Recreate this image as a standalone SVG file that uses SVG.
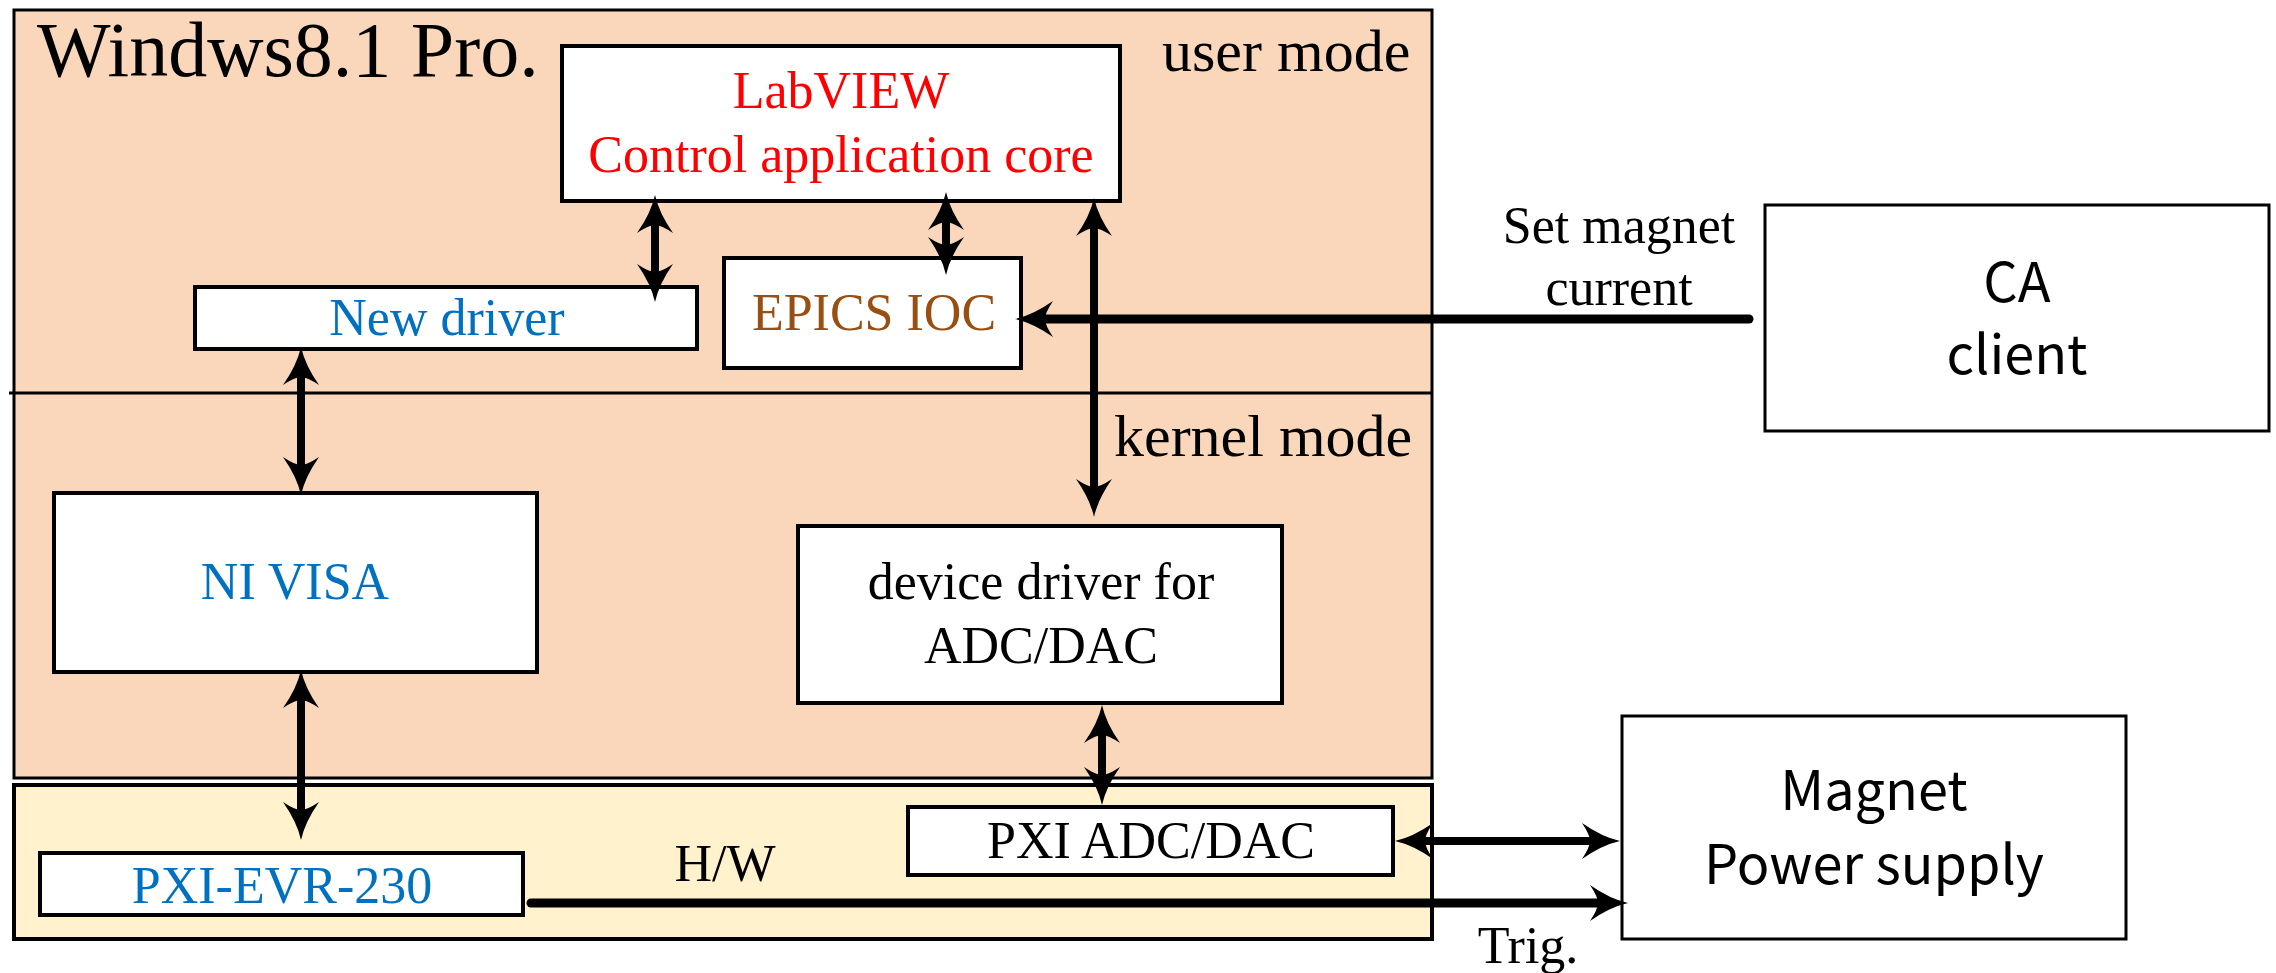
<svg xmlns="http://www.w3.org/2000/svg" width="2276" height="973" viewBox="0 0 2276 973">
<style>
.bg{fill:#ffffff}
.os{fill:#FAD7BA;stroke:#000;stroke-width:3}
.hw{fill:#FFF2CC;stroke:#000;stroke-width:4}
.box{fill:#ffffff;stroke:#000;stroke-width:4}
.ext{fill:#ffffff;stroke:#000;stroke-width:3}
.t{font-family:"Liberation Serif","Times New Roman",serif;font-size:52px;text-anchor:middle}
.big{font-family:"Liberation Serif","Times New Roman",serif;font-size:78px}
.mode{font-family:"Liberation Serif","Times New Roman",serif;font-size:60px}
.s{font-family:"Noto Sans CJK JP","Noto Sans",sans-serif;font-size:54px;text-anchor:middle}
.red{fill:#FF0000}
.blue{fill:#0070C0}
.brown{fill:#9A4F12}
.blk{fill:#000}
.c{fill:none;stroke:#000;stroke-width:8}
.cw{fill:none;stroke:#000;stroke-width:9;stroke-linecap:round}
</style>
<defs>
<marker id="ah" viewBox="-40 -20 42 40" refX="-25" refY="0" markerWidth="42" markerHeight="40" markerUnits="userSpaceOnUse" orient="auto-start-reverse">
<path d="M0,0 Q-18,-4 -38,-18 Q-30,-6 -30,0 Q-30,6 -38,18 Q-18,4 0,0 Z" fill="#000"/>
</marker>
</defs>
<rect class="bg" x="0" y="0" width="2276" height="973"/>
<g id="os-region">
<rect class="os" x="14" y="10" width="1418" height="768"/>
<line x1="9" y1="393" x2="1431" y2="393" stroke="#000" stroke-width="3"/>
<text class="big blk" x="37" y="76">Windws8.1 Pro.</text>
<text class="mode blk" x="1162" y="71">user mode</text>
<text class="mode blk" x="1114" y="456">kernel mode</text>
</g>
<g id="hw-region">
<rect class="hw" x="14" y="785" width="1418" height="154"/>
<text class="t blk" x="725" y="881">H/W</text>
</g>
<g id="labview">
<rect class="box" x="562" y="46" width="558" height="155"/>
<text class="t red" x="841" y="108">LabVIEW</text>
<text class="t red" x="841" y="172">Control application core</text>
</g>
<g id="new-driver">
<rect class="box" x="195" y="287" width="502" height="62"/>
<text class="t blue" x="447" y="335">New driver</text>
</g>
<g id="epics-ioc">
<rect class="box" x="724" y="258" width="297" height="110"/>
<text class="t brown" x="874" y="330">EPICS IOC</text>
</g>
<g id="ni-visa">
<rect class="box" x="54" y="493" width="483" height="179"/>
<text class="t blue" x="295" y="599">NI VISA</text>
</g>
<g id="device-driver">
<rect class="box" x="798" y="526" width="484" height="177"/>
<text class="t blk" x="1041" y="599">device driver for</text>
<text class="t blk" x="1041" y="663">ADC/DAC</text>
</g>
<g id="pxi-evr">
<rect class="box" x="40" y="853" width="483" height="62"/>
<text class="t blue" x="282" y="903">PXI-EVR-230</text>
</g>
<g id="pxi-adc">
<rect class="box" x="908" y="807" width="485" height="68"/>
<text class="t blk" x="1151" y="858">PXI ADC/DAC</text>
</g>
<g id="ca-client">
<rect class="ext" x="1765" y="205" width="504" height="226"/>
<text class="s blk" x="2017" y="302">CA</text>
<text class="s blk" x="2017" y="374">client</text>
</g>
<g id="magnet-ps">
<rect class="ext" x="1622" y="716" width="504" height="223"/>
<text class="s blk" x="1874" y="810">Magnet</text>
<text class="s blk" x="1874" y="884">Power supply</text>
</g>
<g id="connectors">
<path class="c" d="M655,220 V277" marker-start="url(#ah)" marker-end="url(#ah)"/>
<path class="c" d="M946,217 V250" marker-start="url(#ah)" marker-end="url(#ah)"/>
<path class="c" d="M1094,223 V492" marker-start="url(#ah)" marker-end="url(#ah)"/>
<path class="cw" d="M1749,319 H1040" marker-end="url(#ah)"/>
<path class="c" d="M301,372 V470" marker-start="url(#ah)" marker-end="url(#ah)"/>
<path class="c" d="M301,695 V815" marker-start="url(#ah)" marker-end="url(#ah)"/>
<path class="c" d="M1102,730 V780" marker-start="url(#ah)" marker-end="url(#ah)"/>
<path class="c" d="M1420,841 H1595" marker-start="url(#ah)" marker-end="url(#ah)"/>
<path class="cw" d="M531,903 H1603" marker-end="url(#ah)"/>
<text class="t blk" x="1619" y="243">Set magnet</text>
<text class="t blk" x="1619" y="305">current</text>
<text class="t blk" x="1528" y="963">Trig.</text>
</g>
</svg>
